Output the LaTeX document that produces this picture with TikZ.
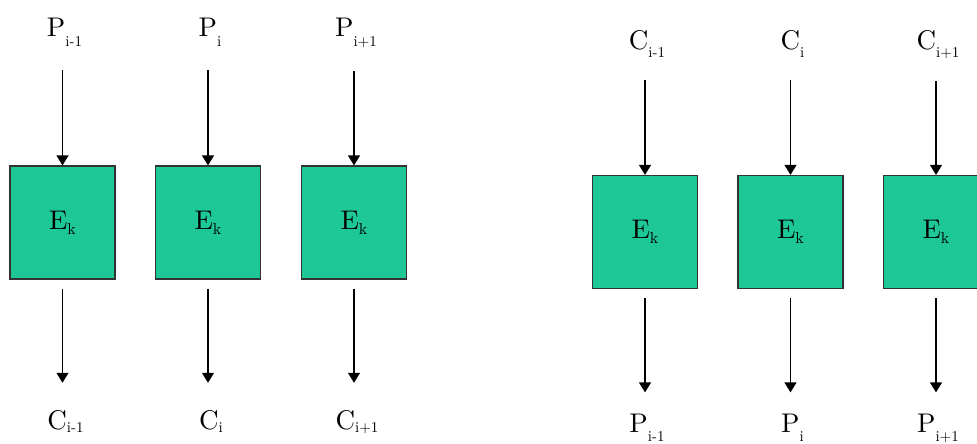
\documentclass[tikz,border=0pt]{standalone}
\usepackage{fontspec}
\setmainfont{lmroman10-regular.otf}
\usetikzlibrary{arrows.meta,positioning}

\definecolor{cipher}{RGB}{30,200,150}
\newcommand{\lo}[2][10pt]{\raisebox{-#1}{\fontsize{15}{17}\selectfont #2}}
\newcommand{\kk}{\raisebox{-5pt}{\fontsize{16}{18}\selectfont k}}

\begin{document}
\begin{tikzpicture}[x=1pt,y=-1pt,
  block/.style={draw=black!80,line width=1.2pt,fill=cipher,minimum width=105pt,
    minimum height=113pt,inner sep=0pt,font=\fontsize{27}{30}\selectfont},
  word/.style={anchor=base,inner sep=0pt,font=\fontsize{27}{30}\selectfont},
  flow/.style={line width=1.3pt,-{Triangle[width=12pt,length=10pt]}}]
  \useasboundingbox (0,0) rectangle (977,444);
  \clip (0,0) rectangle (977,444);

  % encryption
  \foreach \n/\x/\s in {1/62.5/i-1,2/208/i,3/354/i+1}{
    \node[block] (enc\n) at (\x,222.5) {E\kk};
    \node[word] (plain\n) at (\x+2,37) {P\lo{\s}};
    \node[word] (ciph\n) at (\x+3,429) {C\lo[3pt]{\s}};
    \draw[flow,shorten <=23pt] (enc\n.north |- plain\n.south) -- (enc\n.north);
    \draw[flow,shorten <=9pt,shorten >=27pt] (enc\n.south) -- (enc\n.south |- ciph\n.north);
  }

  % decryption
  \foreach \n/\x/\s in {1/645/i-1,2/790.5/i,3/936/i+1}{
    \node[block] (dec\n) at (\x,232) {E\kk};
    \node[word] (cin\n) at (\x+2,50) {C\lo[8pt]{\s}};
    \node[word] (pout\n) at (\x+2,432) {P\lo[9pt]{\s}};
    \draw[flow,shorten <=22pt] (dec\n.north |- cin\n.south) -- (dec\n.north);
    \draw[flow,shorten <=9pt,shorten >=21pt] (dec\n.south) -- (dec\n.south |- pout\n.north);
  }
\end{tikzpicture}
\end{document}
